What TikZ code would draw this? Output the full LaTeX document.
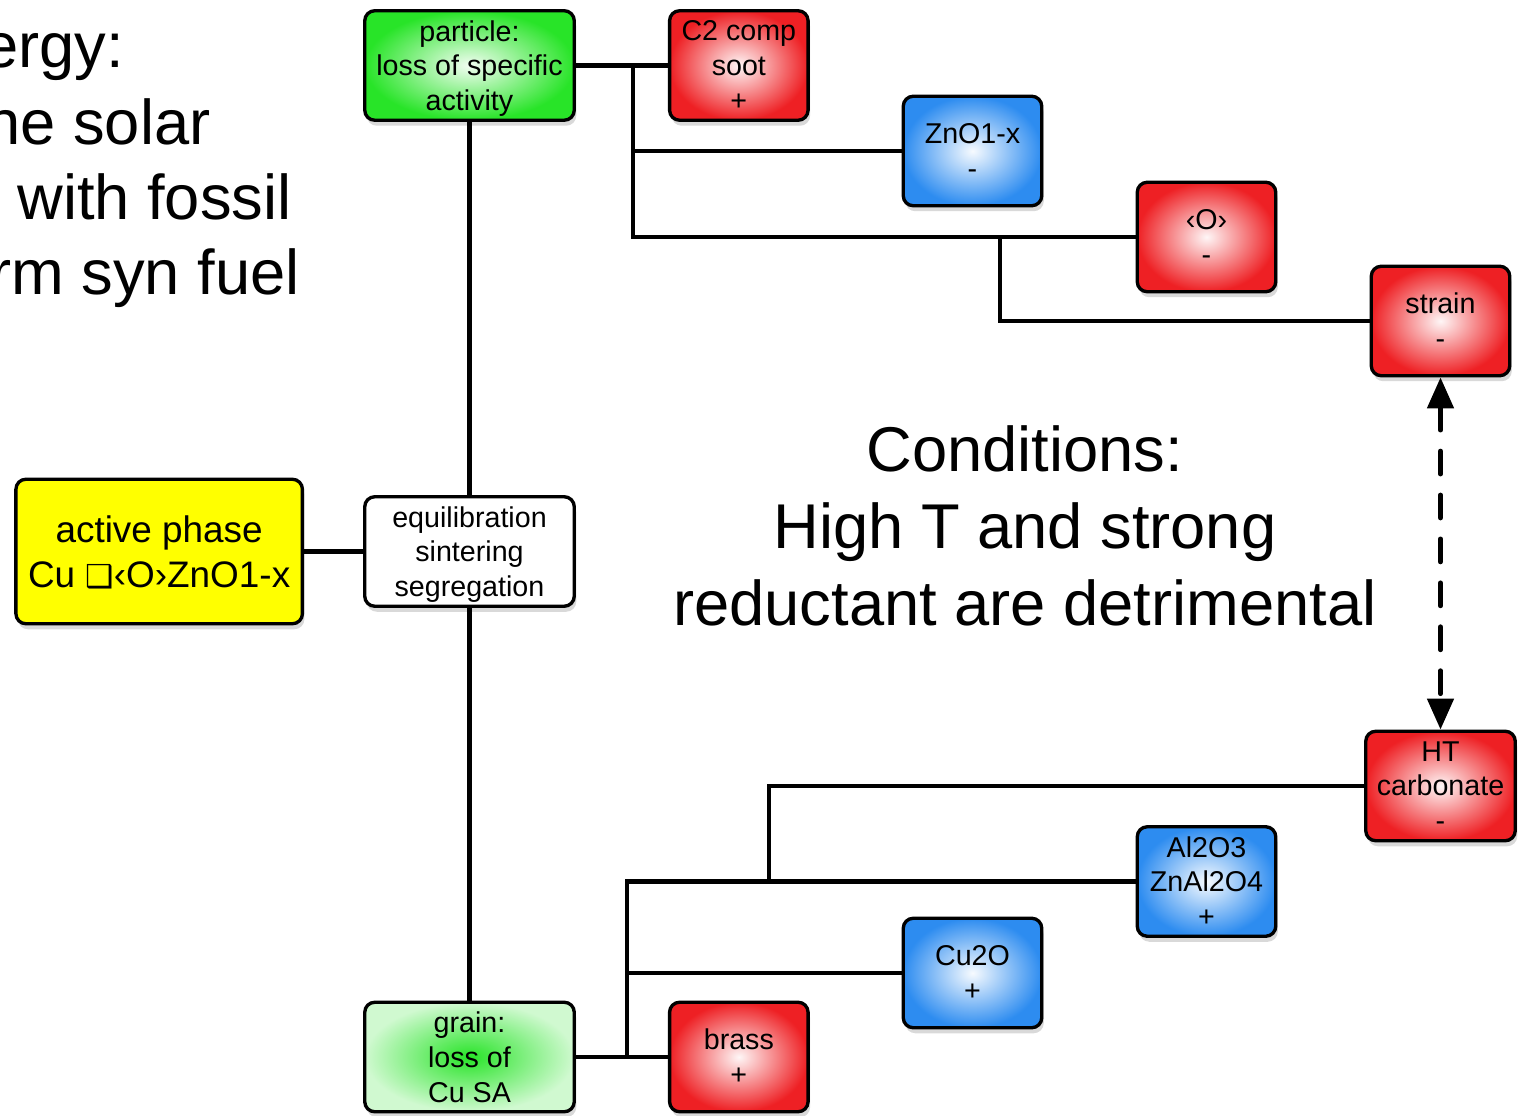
\documentclass[tikz,border=0pt]{standalone}
\usepackage{fontspec}
\setmainfont{Liberation Sans}
\newfontfamily\dingfont{DejaVu Sans}
\usetikzlibrary{arrows.meta,positioning,shadows}
\definecolor{boxred}{RGB}{238,32,36}
\definecolor{boxgreen}{RGB}{40,228,40}
\definecolor{boxblue}{RGB}{45,140,240}
\definecolor{boxyellow}{RGB}{255,255,0}
\tikzset{
  box/.style={rectangle, rounded corners=2mm, draw=black, line width=1.9pt, align=center, inner sep=1mm, text depth=0pt, minimum height=21.9mm, font=\fontsize{16.3}{19.8}\selectfont, drop shadow={opacity=0.3, shadow xshift=0.4mm, shadow yshift=-1.1mm}},
  widebox/.style={box, minimum width=41.9mm},
  smallbox/.style={box, minimum width=27.7mm},
  redbox/.style={smallbox, shading=radial, inner color=boxred!4, outer color=boxred},
  bluebox/.style={smallbox, shading=radial, inner color=boxblue!4, outer color=boxblue},
  greenbox/.style={widebox, shading=radial, inner color=boxgreen!6, outer color=boxgreen},
  palebox/.style={widebox, shading=radial, inner color=boxgreen, outer color=boxgreen!22},
  plainbox/.style={widebox, fill=white},
  phasebox/.style={box, fill=boxyellow, minimum width=57.3mm, minimum height=28.9mm, font=\fontsize{21}{26}\selectfont},
  bigtext/.style={inner sep=0pt, font=\fontsize{36}{43.7}\selectfont},
  wire/.style={line width=2.3pt, draw=black},
  dasharrow/.style={{Triangle[length=6.2mm,width=5.2mm]}-{Triangle[length=6.2mm,width=5.2mm]}, line width=2.8pt, line cap=round, dash pattern=on 13pt off 12pt}
}

\begin{document}
\begin{tikzpicture}[x=0.2mm, y=-0.2mm]
\useasboundingbox (0,0) rectangle (1521,1116);
% headline text, cut at the left edge
\node[bigtext, anchor=base west] (intro1) at (-17,68) {ergy:};
\node[bigtext, anchor=base west] (intro2) at (-15,145) {he solar};
\node[bigtext, anchor=base west] (intro3) at (17,220) {with fossil};
\node[bigtext, anchor=base west] (intro4) at (-10,295) {rm syn fuel};
\node[bigtext, align=center] (cond) at (1025,526) {Conditions:\\High T and strong\\reductant are detrimental};
% main column
\node[greenbox] (particle) at (469.5,65.5) {particle:\\loss of specific\\activity};
\node[plainbox] (equil) at (469.5,551.5) {equilibration\\sintering\\segregation};
\node[palebox] (grain) at (469.5,1057) {grain:\\loss of\\Cu SA};
\node[phasebox, left=11.8mm of equil] (active) {active phase\\Cu {\dingfont\fontsize{18}{26}\selectfont ❑}‹O›ZnO1-x};
% upper branch
\node[redbox, right=18.4mm of particle] (soot) {C2 comp\\soot\\+};
\node[bluebox] (zno) at (972.5,151) {ZnO1-x\\-};
\node[redbox] (oxy) at (1206.5,237) {‹O›\\-};
\node[redbox] (strain) at (1440.5,321) {strain\\-};
% lower branch
\node[redbox, right=18.4mm of grain] (brass) {brass\\+};
\node[bluebox] (cuo) at (972.5,973) {Cu2O\\+};
\node[bluebox] (alo) at (1206.5,881.5) {Al2O3\\ZnAl2O4\\+};
\node[redbox, minimum width=29.9mm] (htc) at (1440.5,786) {HT\\carbonate\\-};
\coordinate (topfork) at (633,65.5);
\coordinate (midfork) at (1000,237);
\coordinate (botfork) at (627,1057);
\coordinate (lowfork) at (769,881.5);
\draw[wire] (particle) -- (equil);
\draw[wire] (equil) -- (grain);
\draw[wire] (active) -- (equil);
\draw[wire] (particle) -- (soot);
\draw[wire] (topfork) |- (oxy.west);
\draw[wire] (topfork |- zno.west) -- (zno.west);
\draw[wire] (midfork) |- (strain.west);
\draw[wire] (grain) -- (brass);
\draw[wire] (botfork) |- (alo.west);
\draw[wire] (botfork |- cuo.west) -- (cuo.west);
\draw[wire] (lowfork) |- (htc.west);
\draw[dasharrow] (strain) -- (htc);
\end{tikzpicture}
\end{document}
